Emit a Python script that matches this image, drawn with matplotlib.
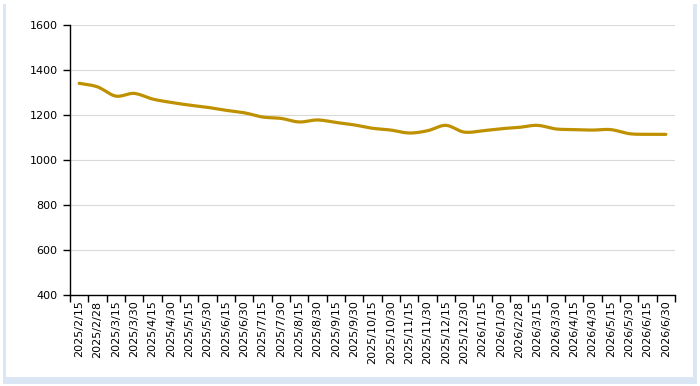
import matplotlib
matplotlib.use("Agg")
import matplotlib.pyplot as plt
import numpy as np
from matplotlib.patches import Rectangle

dates = ["2025/2/15", "2025/2/28", "2025/3/15", "2025/3/30", "2025/4/15", "2025/4/30",
         "2025/5/15", "2025/5/30", "2025/6/15", "2025/6/30", "2025/7/15", "2025/7/30",
         "2025/8/15", "2025/8/30", "2025/9/15", "2025/9/30", "2025/10/15", "2025/10/30",
         "2025/11/15", "2025/11/30", "2025/12/15", "2025/12/30", "2026/1/15", "2026/1/30",
         "2026/2/28", "2026/3/15", "2026/3/30", "2026/4/15", "2026/4/30", "2026/5/15",
         "2026/5/30", "2026/6/15", "2026/6/30"]
values = [1341, 1325, 1284, 1296, 1271, 1256, 1244, 1234, 1221, 1210, 1191, 1185,
          1169, 1178, 1167, 1156, 1141, 1133, 1120, 1130, 1154, 1124, 1130, 1139,
          1145, 1154, 1138, 1135, 1133, 1135, 1117, 1114, 1114]
y_ticks = [400, 600, 800, 1000, 1200, 1400, 1600]


def smooth(x, y, n=12):
    # catmull-rom curve through the points, like the spreadsheet "smoothed line"
    x = np.asarray(x, float); y = np.asarray(y, float)
    px = np.concatenate([[2 * x[0] - x[1]], x, [2 * x[-1] - x[-2]]])
    py = np.concatenate([[2 * y[0] - y[1]], y, [2 * y[-1] - y[-2]]])
    t = np.linspace(0, 1, n, endpoint=False)
    xs, ys = [], []
    for i in range(1, len(px) - 2):
        for p, out in ((px, xs), (py, ys)):
            p0, p1, p2, p3 = p[i - 1], p[i], p[i + 1], p[i + 2]
            out.extend(0.5 * (2 * p1 + (-p0 + p2) * t + (2 * p0 - 5 * p1 + 4 * p2 - p3) * t ** 2
                              + (-p0 + 3 * p1 - 3 * p2 + p3) * t ** 3))
    xs.append(x[-1]); ys.append(y[-1])
    return np.array(xs), np.array(ys)


fig = plt.figure(figsize=(7.0, 3.86), dpi=100)
W, H = 700, 386
# panel shadow + white panel (kept behind the axes)
fig.patches.append(Rectangle((3 / W, 1 - 384 / H), 694 / W, 380 / H, transform=fig.transFigure,
                             facecolor="#dbe6f4", edgecolor="none", zorder=-2))
fig.patches.append(Rectangle((6 / W, 1 - 377 / H), 687 / W, 374 / H, transform=fig.transFigure,
                             facecolor="white", edgecolor="none", zorder=-1))

ax = fig.add_axes([70 / W, 1 - 295 / H, 605 / W, 270 / H])
ax.set_facecolor("none")
x = np.arange(len(values))
sx, sy = smooth(x, values)
ax.plot(sx, sy, color="#BF9000", lw=2.3, solid_capstyle="round", zorder=3)

ax.set_xlim(-0.5, len(values) - 0.5)
ax.set_ylim(400, 1600)
ax.set_yticks(y_ticks)
ax.set_xticks(x)
ax.set_xticklabels(dates, rotation=90, fontsize=8)
ax.set_xticks(np.arange(len(values) + 1) - 0.5, minor=True)
ax.tick_params(axis="x", which="major", length=0, pad=4)
ax.tick_params(axis="x", which="minor", length=5, direction="out", width=1)
ax.tick_params(axis="y", labelsize=8, length=5, width=1, pad=4)
ax.grid(axis="y", color="#d9d9d9", lw=0.8)
ax.set_axisbelow(True)
for s in ("top", "right"):
    ax.spines[s].set_visible(False)
for s in ("left", "bottom"):
    ax.spines[s].set_linewidth(1)

fig.savefig("out.png", dpi=100)
